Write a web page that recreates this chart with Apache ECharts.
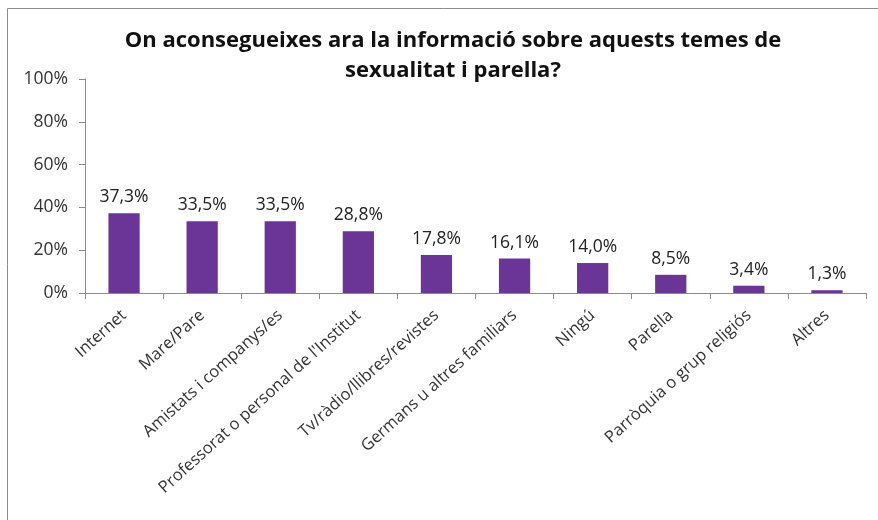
<!DOCTYPE html>
<html>
<head>
<meta charset="utf-8">
<script src="https://cdn.jsdelivr.net/npm/echarts@6/dist/echarts.min.js"></script>
<style>
  html, body { margin: 0; padding: 0; background: #fff; }
  #chart { width: 878px; height: 520px; }
</style>
</head>
<body>
<div id="chart"></div>
<script>
var categories = ['Internet', 'Mare/Pare', 'Amistats i companys/es', "Professorat o personal de l'Institut",
    'Tv/ràdio/llibres/revistes', 'Germans u altres familiars', 'Ningú', 'Parella',
    'Parròquia o grup religiós', 'Altres'];
var values = [37.3, 33.5, 33.5, 28.8, 17.8, 16.1, 14.0, 8.5, 3.4, 1.3];
var yTicks = [0, 20, 40, 60, 80, 100];

var chart = echarts.init(document.getElementById('chart'));
var font = '"Open Sans", Lato, sans-serif';

chart.setOption({
    animation: false,
    title: {
        text: 'On aconsegueixes ara la informació sobre aquests temes de\nsexualitat i parella?',
        left: 448,
        top: 21,
        textAlign: 'center',
        textStyle: {
            fontFamily: font,
            fontSize: 22,
            fontWeight: 'bold',
            color: '#111',
            lineHeight: 30
        }
    },
    graphic: [{
        type: 'rect',
        shape: { x: 7.5, y: 8.5, width: 900, height: 600 },
        style: { fill: 'none', stroke: '#8c8c8c', lineWidth: 1 },
        silent: true
    }],
    grid: {
        left: 85,
        right: 12,
        top: 79,
        bottom: 227
    },
    xAxis: {
        type: 'category',
        data: categories,
        axisLine: { lineStyle: { color: '#8c8c8c' } },
        axisTick: { show: true, alignWithLabel: false, length: 6, lineStyle: { color: '#8c8c8c' } },
        axisLabel: {
            rotate: 42,
            interval: 0,
            margin: 20,
            fontFamily: font,
            fontSize: 16.5,
            color: '#333'
        }
    },
    yAxis: {
        type: 'value',
        min: 0,
        max: 100,
        interval: 20,
        axisLine: { show: true, lineStyle: { color: '#8c8c8c' } },
        axisTick: { show: true, length: 6, lineStyle: { color: '#8c8c8c' } },
        splitLine: { show: false },
        axisLabel: {
            margin: 17,
            fontFamily: font,
            fontSize: 17.5,
            color: '#333',
            formatter: function (v) { return yTicks.indexOf(v) >= 0 ? v + '%' : ''; }
        }
    },
    series: [{
        type: 'bar',
        data: values,
        barWidth: '40%',
        itemStyle: { color: '#6a3597' },
        label: {
            show: true,
            position: 'top',
            distance: 7,
            fontFamily: font,
            fontSize: 17.5,
            color: '#222',
            formatter: function (p) { return p.value.toFixed(1).replace('.', ',') + '%'; }
        }
    }]
});

window.addEventListener('resize', function () {
    chart.resize();
});
</script>
</body>
</html>
